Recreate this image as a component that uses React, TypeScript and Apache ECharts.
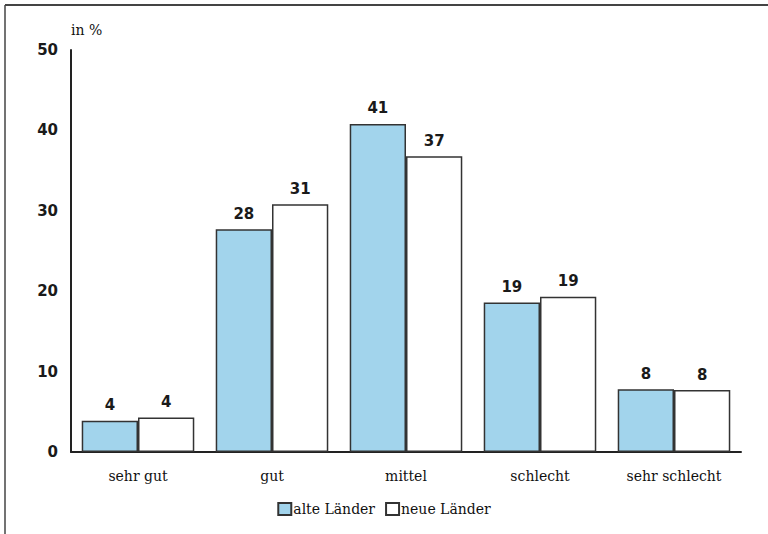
import React, { useEffect, useRef } from "react";
import * as echarts from "echarts";

const categories = ["sehr gut", "gut", "mittel", "schlecht", "sehr schlecht"];
const alteLaender = [3.9, 27.7, 40.8, 18.6, 7.8];
const neueLaender = [4.3, 30.8, 36.8, 19.3, 7.7];
const seriesNames = ["alte Länder", "neue Länder"];
const yTicks = { min: 0, max: 50, interval: 10 };

const serif = "'DejaVu Serif', 'Liberation Serif', serif";
const sans = "'DejaVu Sans', 'Open Sans', sans-serif";

export default function App() {
  const ref = useRef<HTMLDivElement>(null);
  useEffect(() => {
    document.body.style.margin = "0";
    const chart = echarts.init(ref.current!, null, { renderer: "svg" });
    const labelCfg = {
      show: true,
      position: "top" as const,
      distance: 8,
      color: "#1a1a1a",
      fontFamily: sans,
      fontWeight: 600,
      fontSize: 15,
      formatter: (p: any) => String(Math.round(p.value)),
    };
    chart.setOption({
      animation: false,
      backgroundColor: "#fff",
      grid: { left: 71, right: 27, top: 50, bottom: 82, containLabel: false },
      legend: {
        bottom: 13,
        left: "center",
        icon: "rect",
        itemWidth: 13,
        itemHeight: 12,
        itemGap: 10,
        textStyle: { fontFamily: serif, fontSize: 14, color: "#111", padding: [0, 0, 0, -3] },
        data: seriesNames,
      },
      xAxis: {
        type: "category",
        data: categories,
        axisLine: { lineStyle: { color: "#222", width: 2 } },
        axisTick: { show: false },
        axisLabel: { fontFamily: serif, fontSize: 14, color: "#111", margin: 17 },
      },
      yAxis: {
        type: "value",
        min: yTicks.min,
        max: yTicks.max,
        interval: yTicks.interval,
        name: "in %",
        nameLocation: "end",
        nameGap: 13,
        nameTextStyle: { fontFamily: serif, fontSize: 14, color: "#111", align: "left" },
        axisLine: { show: true, lineStyle: { color: "#222", width: 2 } },
        axisTick: { show: false },
        splitLine: { show: false },
        axisLabel: { fontFamily: sans, fontWeight: 600, fontSize: 15, color: "#1a1a1a", margin: 13 },
      },
      series: [
        {
          name: seriesNames[0],
          type: "bar",
          data: alteLaender,
          barGap: "0%",
          barCategoryGap: "16%",
          itemStyle: { color: "#a2d4ec", borderColor: "#333", borderWidth: 1.5 },
          label: labelCfg,
        },
        {
          name: seriesNames[1],
          type: "bar",
          data: neueLaender,
          barGap: "0%",
          barCategoryGap: "16%",
          itemStyle: { color: "#ffffff", borderColor: "#333", borderWidth: 1.5 },
          label: labelCfg,
        },
      ],
      graphic: [
        { type: "line", shape: { x1: 5, y1: 5, x2: 768, y2: 5 }, style: { stroke: "#444", lineWidth: 2 } },
        { type: "line", shape: { x1: 5, y1: 5, x2: 5, y2: 534 }, style: { stroke: "#444", lineWidth: 1.5 } },
      ],
    });
    return () => chart.dispose();
  }, []);
  return <div ref={ref} style={{ width: 768, height: 534 }} />;
}
